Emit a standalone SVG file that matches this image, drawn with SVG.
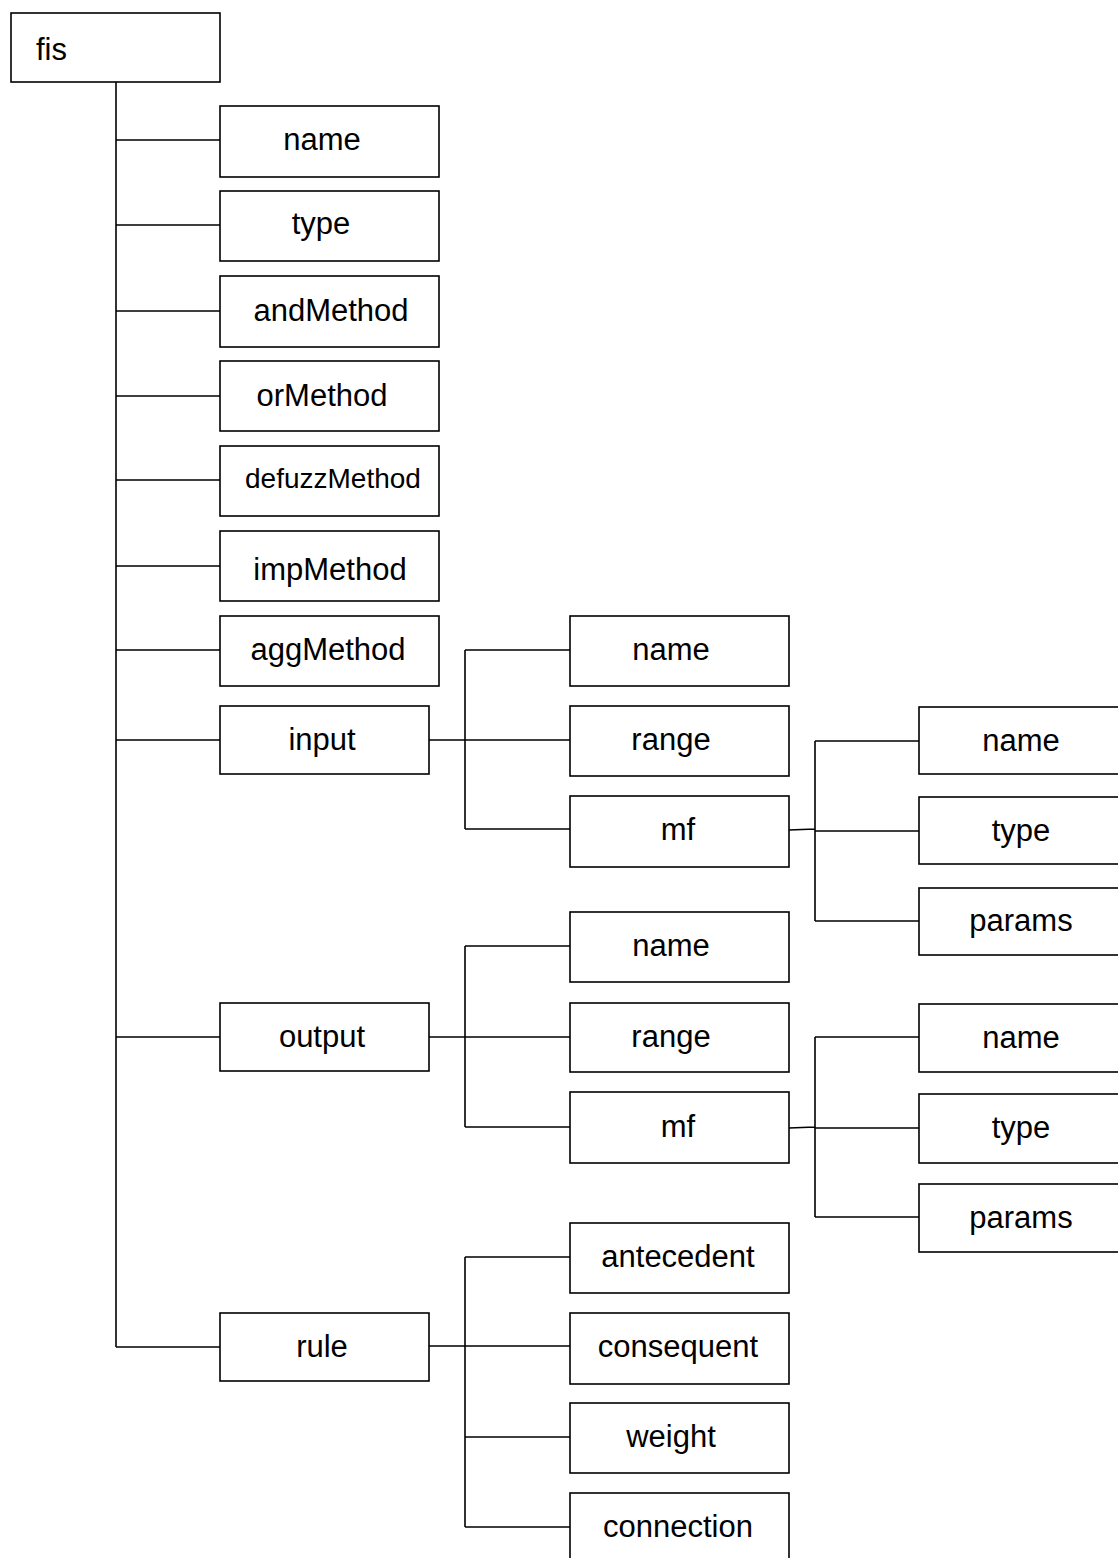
<svg xmlns="http://www.w3.org/2000/svg" width="1118" height="1558" viewBox="0 0 1118 1558">
  <style>
    .box { fill: #ffffff; stroke: #000000; stroke-width: 1.6; }
    .lbl { font-family: "Liberation Sans", Arial, sans-serif; font-size: 31px; fill: #000000; text-anchor: middle; }
    .wire { fill: none; stroke: #000000; stroke-width: 1.6; }
  </style>
  <rect width="1118" height="1558" fill="#ffffff"/>

  <!-- tree connectors -->
  <g id="connectors" class="wire">
    <!-- trunk from fis -->
    <path d="M116 82 V1347"/>
    <path d="M116 140 H220 M116 225 H220 M116 311 H220 M116 396 H220 M116 480 H220 M116 566 H220 M116 650 H220 M116 740 H220 M116 1037 H220 M116 1347 H220"/>
    <!-- input children -->
    <path d="M429 740 H465 M465 650 V829 M465 650 H570 M465 740 H570 M465 829 H570"/>
    <!-- input mf children -->
    <path d="M789 830 L815 829 M815 741 V921 M815 741 H919 M815 831 H919 M815 921 H919"/>
    <!-- output children -->
    <path d="M429 1037 H465 M465 946 V1127 M465 946 H570 M465 1037 H570 M465 1127 H570"/>
    <!-- output mf children -->
    <path d="M789 1128 L815 1127 M815 1037 V1217 M815 1037 H919 M815 1128 H919 M815 1217 H919"/>
    <!-- rule children -->
    <path d="M429 1346 H465 M465 1257 V1527 M465 1257 H570 M465 1346 H570 M465 1437 H570 M465 1527 H570"/>
  </g>

  <!-- root -->
  <g id="fis"><rect class="box" x="11" y="13" width="209" height="69"/><text class="lbl" x="36" y="60" style="text-anchor:start">fis</text></g>

  <!-- first level -->
  <g id="fis-name"><rect class="box" x="220" y="106" width="219" height="71"/><text class="lbl" x="322" y="150">name</text></g>
  <g id="fis-type"><rect class="box" x="220" y="191" width="219" height="70"/><text class="lbl" x="321" y="234">type</text></g>
  <g id="andMethod"><rect class="box" x="220" y="276" width="219" height="71"/><text class="lbl" x="331" y="321">andMethod</text></g>
  <g id="orMethod"><rect class="box" x="220" y="361" width="219" height="70"/><text class="lbl" x="322" y="406">orMethod</text></g>
  <g id="defuzzMethod"><rect class="box" x="220" y="446" width="219" height="70"/><text class="lbl" x="333" y="488" style="font-size:28px">defuzzMethod</text></g>
  <g id="impMethod"><rect class="box" x="220" y="531" width="219" height="70"/><text class="lbl" x="330" y="580">impMethod</text></g>
  <g id="aggMethod"><rect class="box" x="220" y="616" width="219" height="70"/><text class="lbl" x="328" y="660">aggMethod</text></g>
  <g id="input"><rect class="box" x="220" y="706" width="209" height="68"/><text class="lbl" x="322" y="750">input</text></g>
  <g id="output"><rect class="box" x="220" y="1003" width="209" height="68"/><text class="lbl" x="322" y="1047">output</text></g>
  <g id="rule"><rect class="box" x="220" y="1313" width="209" height="68"/><text class="lbl" x="322" y="1357">rule</text></g>

  <!-- input children -->
  <g id="input-name"><rect class="box" x="570" y="616" width="219" height="70"/><text class="lbl" x="671" y="660">name</text></g>
  <g id="input-range"><rect class="box" x="570" y="706" width="219" height="70"/><text class="lbl" x="671" y="750">range</text></g>
  <g id="input-mf"><rect class="box" x="570" y="796" width="219" height="71"/><text class="lbl" x="678" y="840">mf</text></g>

  <!-- input mf children -->
  <g id="input-mf-name"><rect class="box" x="919" y="707" width="215" height="67"/><text class="lbl" x="1021" y="751">name</text></g>
  <g id="input-mf-type"><rect class="box" x="919" y="797" width="215" height="67"/><text class="lbl" x="1021" y="841">type</text></g>
  <g id="input-mf-params"><rect class="box" x="919" y="888" width="215" height="67"/><text class="lbl" x="1021" y="931">params</text></g>

  <!-- output children -->
  <g id="output-name"><rect class="box" x="570" y="912" width="219" height="70"/><text class="lbl" x="671" y="956">name</text></g>
  <g id="output-range"><rect class="box" x="570" y="1003" width="219" height="69"/><text class="lbl" x="671" y="1047">range</text></g>
  <g id="output-mf"><rect class="box" x="570" y="1092" width="219" height="71"/><text class="lbl" x="678" y="1137">mf</text></g>

  <!-- output mf children -->
  <g id="output-mf-name"><rect class="box" x="919" y="1004" width="215" height="68"/><text class="lbl" x="1021" y="1048">name</text></g>
  <g id="output-mf-type"><rect class="box" x="919" y="1094" width="215" height="69"/><text class="lbl" x="1021" y="1138">type</text></g>
  <g id="output-mf-params"><rect class="box" x="919" y="1184" width="215" height="68"/><text class="lbl" x="1021" y="1228">params</text></g>

  <!-- rule children -->
  <g id="antecedent"><rect class="box" x="570" y="1223" width="219" height="70"/><text class="lbl" x="678" y="1267">antecedent</text></g>
  <g id="consequent"><rect class="box" x="570" y="1313" width="219" height="71"/><text class="lbl" x="678" y="1357">consequent</text></g>
  <g id="weight"><rect class="box" x="570" y="1403" width="219" height="70"/><text class="lbl" x="671" y="1447">weight</text></g>
  <g id="connection"><rect class="box" x="570" y="1493" width="219" height="80"/><text class="lbl" x="678" y="1537">connection</text></g>
</svg>
